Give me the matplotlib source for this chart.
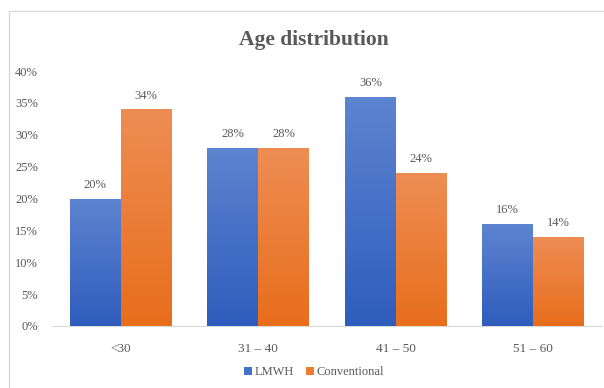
import matplotlib.pyplot as plt
from matplotlib.patches import Rectangle
from matplotlib.colors import LinearSegmentedColormap
import numpy as np

plt.rcParams['font.family'] = ['Liberation Serif', 'DejaVu Serif']

categories = ["<30", "31 \u2013 40", "41 \u2013 50", "51 \u2013 60"]
lmwh = [20, 28, 36, 16]
conventional = [34, 28, 24, 14]
series_names = ["LMWH", "Conventional"]
yticks = [0, 5, 10, 15, 20, 25, 30, 35, 40]

colors = ["#4472C4", "#ED7D31"]
grads = [("#2F5DBD", "#5D84D0"), ("#E86E1C", "#EE8D53")]
txt = "#595959"

fig = plt.figure(figsize=(6.04, 3.88), dpi=100)
fig.patches.append(Rectangle((9/604, -0.1), 1.0, 1 - 11/388 + 0.1,
                             transform=fig.transFigure, fill=False,
                             edgecolor="#D9D9D9", lw=1.0))

ax = fig.add_axes([52/604, 1 - 326/388, 550/604, 255/388])
x = np.arange(len(categories))
w = 0.37

for i, vals in enumerate([lmwh, conventional]):
    offs = -w/2 if i == 0 else w/2
    bars = ax.bar(x + offs, vals, w, color=colors[i], label=series_names[i],
                  zorder=2)
    cmap = LinearSegmentedColormap.from_list("g%d" % i, list(grads[i]))
    for b, v in zip(bars, vals):
        bx, bw = b.get_x(), b.get_width()
        im = ax.imshow(np.linspace(0, 1, 100).reshape(-1, 1), cmap=cmap,
                       origin="lower", aspect="auto",
                       extent=[bx, bx + bw, 0, v], zorder=3)
        im.set_clip_path(b)
        ax.text(b.get_x() + bw/2, v + 1.2, "%d%%" % v, ha="center",
                va="bottom", fontsize=9, color=txt)

ax.set_xlim(-0.5, 3.5)
ax.set_ylim(0, 40)
ax.set_xticks(x)
ax.set_xticklabels(categories, fontsize=9.5, color=txt)
ax.set_yticks(yticks)
ax.set_yticklabels(["%d%%" % t for t in yticks], fontsize=9, color=txt)
ax.tick_params(length=0)
ax.tick_params(axis="x", pad=12)
ax.tick_params(axis="y", pad=10)
for s in ["top", "right", "left"]:
    ax.spines[s].set_visible(False)
ax.spines["bottom"].set_color("#D9D9D9")

fig.text(0.52, 1 - 40/388, "Age distribution", ha="center", va="center",
         fontsize=15.5, fontweight="bold", color=txt)

leg = fig.legend(loc="center", bbox_to_anchor=(0.52, 1 - 372/388), ncol=2,
                 frameon=False, fontsize=9, handlelength=0.6,
                 handleheight=0.6, handletextpad=0.2, columnspacing=1.0)
for t in leg.get_texts():
    t.set_color(txt)

fig.savefig("out.png", dpi=100)
